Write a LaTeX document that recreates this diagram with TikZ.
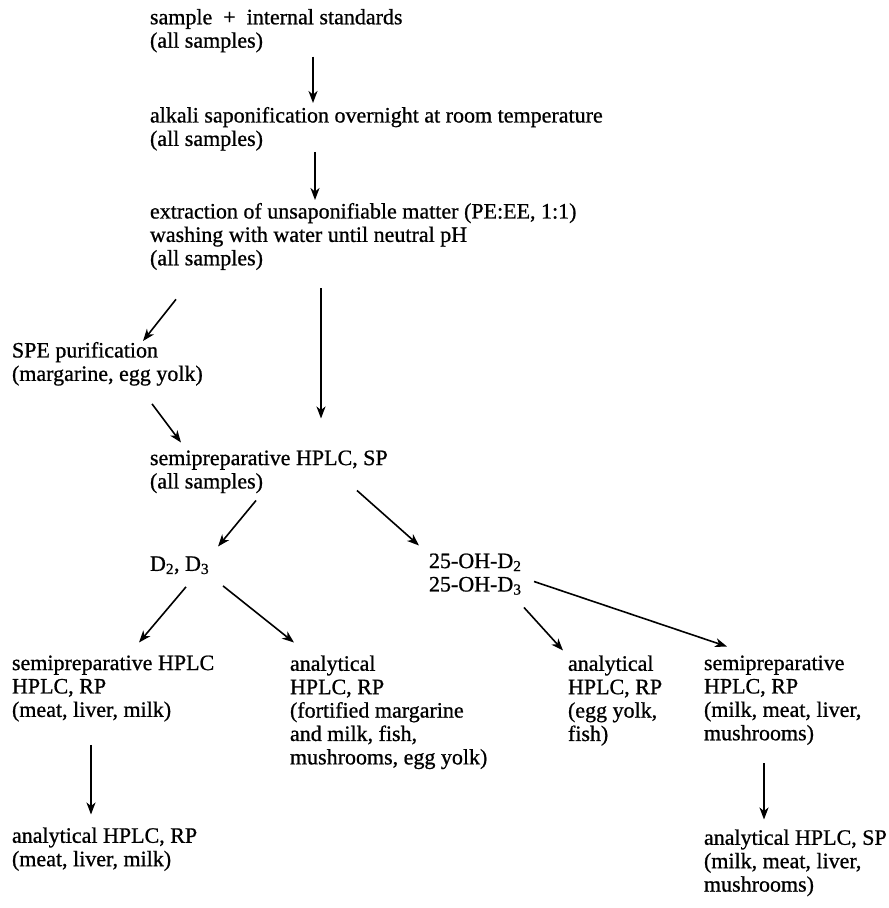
\documentclass[tikz,border=0pt]{standalone}
\usepackage{fontspec}
\setmainfont[FakeBold=0.8]{Liberation Serif}
\usetikzlibrary{arrows.meta,calc}
\begin{document}
\begin{tikzpicture}[x=1pt,y=-1pt,
  txt/.style={anchor=north west,inner sep=0pt,outer sep=0pt,align=left,
    font=\fontsize{22pt}{23.4pt}\selectfont,
    execute at begin node=\strut, execute at end node=\strut},
  arr/.style={line width=1.6pt,-{Stealth[length=12pt,width=9pt,inset=3.5pt]}}]
\useasboundingbox (0,0) rectangle (889,908);
\node[txt] (N1) at (150,9) {sample\ \ +\ \ internal standards\\(all samples)};
\node[txt] (N2) at (150,107) {alkali saponification overnight at room temperature\\(all samples)};
\node[txt] (N3) at (150,203) {extraction of unsaponifiable matter (PE:EE, 1:1)\\washing with water until neutral pH\\(all samples)};
\node[txt] (SPE) at (12,342) {SPE purification\\(margarine, egg yolk)};
\node[txt] (SEMI) at (150,450.5) {semipreparative\ HPLC, SP\\(all samples)};
\node[txt] (D) at (150,554.5) {D\textsubscript{2}, D\textsubscript{3}};
\node[txt] (OH) at (429,553.5) {25-OH-D\textsubscript{2}\\25-OH-D\textsubscript{3}};
\node[txt] (B1) at (12,655.5) {semipreparative\ HPLC\\HPLC, RP\\(meat, liver, milk)};
\node[txt] (B2) at (290,655.5) {analytical\\HPLC, RP\\(fortified margarine\\and milk, fish,\\mushrooms, egg yolk)};
\node[txt] (B3) at (568,655.5) {analytical\\HPLC, RP\\(egg yolk,\\fish)};
\node[txt] (B4) at (704,655.5) {semipreparative\\HPLC, RP\\(milk, meat, liver,\\mushrooms)};
\node[txt] (C1) at (12,827.5) {analytical HPLC, RP\\(meat, liver, milk)};
\node[txt] (C2) at (704,829.5) {analytical HPLC, SP\\(milk, meat, liver,\\mushrooms)};
\draw[arr] ($(N1.south west)+(163,2)$) -- ($(N2.north west)+(163,-4)$);
\draw[arr] ($(N2.south west)+(165,-1)$) -- ($(N3.north west)+(165,-3)$);
\draw[arr] ($(N3.south west)+(26,27)$) -- ($(SPE.north west)+(131,-1)$);
\draw[arr] ($(N3.south west)+(171,16)$) -- ($(SEMI.north west)+(171,-32)$);
\draw[arr] ($(SPE.south west)+(140,16)$) -- ($(SEMI.north west)+(31,-8)$);
\draw[arr] ($(SEMI.south west)+(106,5)$) -- ($(D.north west)+(68,-8)$);
\draw[arr] ($(SEMI.south west)+(207,-5)$) -- ($(OH.north west)+(-10,-8)$);
\draw[arr] ($(D.south west)+(36,9)$) -- ($(B1.north west)+(127,-13)$);
\draw[arr] ($(D.south west)+(73,8)$) -- ($(B2.north west)+(4,-13)$);
\draw[arr] ($(OH.south west)+(95,9)$) -- ($(B3.north west)+(-5,-5)$);
\draw[arr] ($(OH.south west)+(105,-17)$) -- ($(B4.north west)+(23,-9)$);
\draw[arr] ($(B1.south west)+(79,21)$) -- ($(C1.north west)+(79,-13)$);
\draw[arr] ($(B4.south west)+(60,16)$) -- ($(C2.north west)+(60,-10)$);
\end{tikzpicture}
\end{document}
